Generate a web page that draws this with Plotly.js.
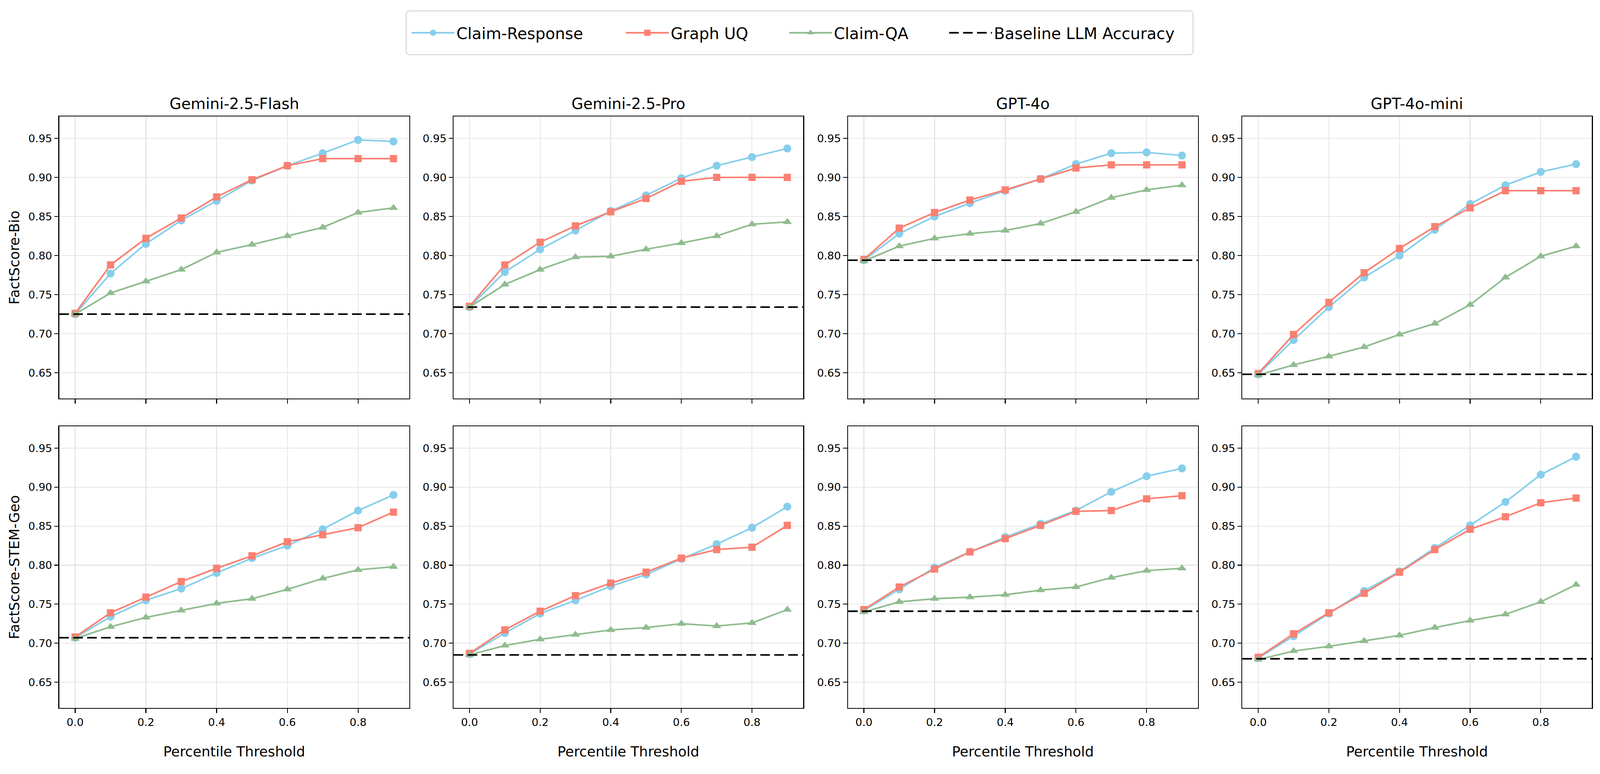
<!DOCTYPE html>
<html>
<head>
<meta charset="utf-8">
<script src="https://cdn.plot.ly/plotly-3.0.1.min.js"></script>
<style>html,body{margin:0;padding:0;background:#fff;overflow:hidden;}</style>
</head>
<body>
<div id="chart"></div>
<script>
// ---------------- data ----------------
const thresholds = [0.0, 0.1, 0.2, 0.3, 0.4, 0.5, 0.6, 0.7, 0.8, 0.9];
const models = ["Gemini-2.5-Flash", "Gemini-2.5-Pro", "GPT-4o", "GPT-4o-mini"];
const datasets = ["FactScore-Bio", "FactScore-STEM-Geo"];
const methodNames = ["Claim-Response", "Graph UQ", "Claim-QA"];
const baselineName = "Baseline LLM Accuracy";
const xTickVals = [0.0, 0.2, 0.4, 0.6, 0.8];
const yTickVals = [0.65, 0.70, 0.75, 0.80, 0.85, 0.90, 0.95];

// FactScore-Bio (one row per model)
const claimResponseBio = [
  [0.725, 0.777, 0.815, 0.845, 0.870, 0.896, 0.915, 0.931, 0.948, 0.946],
  [0.734, 0.779, 0.808, 0.832, 0.857, 0.877, 0.899, 0.915, 0.926, 0.937],
  [0.794, 0.828, 0.850, 0.867, 0.883, 0.898, 0.917, 0.931, 0.932, 0.928],
  [0.648, 0.692, 0.734, 0.772, 0.800, 0.833, 0.866, 0.890, 0.907, 0.917]
];
const graphUQBio = [
  [0.726, 0.788, 0.822, 0.848, 0.875, 0.897, 0.915, 0.924, 0.924, 0.924],
  [0.735, 0.788, 0.817, 0.838, 0.856, 0.873, 0.895, 0.900, 0.900, 0.900],
  [0.795, 0.835, 0.855, 0.871, 0.884, 0.898, 0.912, 0.916, 0.916, 0.916],
  [0.649, 0.699, 0.740, 0.778, 0.809, 0.837, 0.861, 0.883, 0.883, 0.883]
];
const claimQABio = [
  [0.725, 0.752, 0.767, 0.782, 0.804, 0.814, 0.825, 0.836, 0.855, 0.861],
  [0.734, 0.763, 0.782, 0.798, 0.799, 0.808, 0.816, 0.825, 0.840, 0.843],
  [0.793, 0.812, 0.822, 0.828, 0.832, 0.841, 0.856, 0.874, 0.884, 0.890],
  [0.647, 0.660, 0.671, 0.683, 0.699, 0.713, 0.737, 0.772, 0.799, 0.812]
];
const baselineBio = [0.725, 0.734, 0.794, 0.648];

// FactScore-STEM-Geo (one row per model)
const claimResponseGeo = [
  [0.707, 0.734, 0.755, 0.770, 0.790, 0.809, 0.825, 0.846, 0.870, 0.890],
  [0.686, 0.713, 0.738, 0.755, 0.773, 0.788, 0.808, 0.827, 0.848, 0.875],
  [0.742, 0.769, 0.797, 0.817, 0.836, 0.853, 0.870, 0.894, 0.914, 0.924],
  [0.681, 0.709, 0.738, 0.767, 0.792, 0.822, 0.851, 0.881, 0.916, 0.939]
];
const graphUQGeo = [
  [0.708, 0.739, 0.759, 0.779, 0.796, 0.812, 0.830, 0.839, 0.848, 0.868],
  [0.687, 0.717, 0.741, 0.761, 0.777, 0.791, 0.809, 0.820, 0.823, 0.851],
  [0.743, 0.772, 0.795, 0.817, 0.834, 0.851, 0.869, 0.870, 0.885, 0.889],
  [0.682, 0.712, 0.739, 0.764, 0.791, 0.820, 0.846, 0.862, 0.880, 0.886]
];
const claimQAGeo = [
  [0.706, 0.721, 0.733, 0.742, 0.751, 0.757, 0.769, 0.783, 0.794, 0.798],
  [0.685, 0.697, 0.705, 0.711, 0.717, 0.720, 0.725, 0.722, 0.726, 0.743],
  [0.740, 0.753, 0.757, 0.759, 0.762, 0.768, 0.772, 0.784, 0.793, 0.796],
  [0.679, 0.690, 0.696, 0.703, 0.710, 0.720, 0.729, 0.737, 0.753, 0.775]
];
const baselineGeo = [0.707, 0.685, 0.741, 0.680];

// ---------------- styling ----------------
const colors = ["#87CEEB", "#FA8072", "#8FBC8F"];
const symbols = ["circle", "square", "triangle-up"];
const markerSizes = [30, 27, 30];
const FONT = "DejaVu Sans, Verdana, sans-serif";
const W = 5968, H = 1981;                       // reference pixel frame
const vw = window.innerWidth || W, vh = window.innerHeight || H;
const kx = vw / W, ky = vh / H;                 // css px per reference px
const k = Math.min(kx, ky);
const P = v => v * k;
const xRange = [-0.045, 0.945];
const yRange = [0.617, 0.978];

// plot-area boxes in reference pixels
const colPx = [[221, 1527], [1692, 2996], [3163, 4468], [4634, 5938]];
const rowPx = [[298, 1020], [1091, 1812]];
// legend entries: left edge of each symbol (reference px), frame box
const legendStarts = [1528, 2327, 2936, 3533];
const legendFrame = {x0: 1515, x1: 4450, y0: 28, y1: 140};

const rows = [
  {series: [claimResponseBio, graphUQBio, claimQABio], base: baselineBio},
  {series: [claimResponseGeo, graphUQGeo, claimQAGeo], base: baselineGeo}
];

const traces = [];
const shapes = [];
const annotations = [];
const layout = {
  width: vw, height: vh,
  margin: {l: 0, r: 0, t: 0, b: 0, pad: 0},
  paper_bgcolor: "#ffffff",
  plot_bgcolor: "#ffffff",
  font: {family: FONT, color: "#000000", size: P(40)},
  showlegend: true,
  shapes: shapes,
  annotations: annotations
};

const legendKeys = ["legend", "legend2", "legend3", "legend4"];
legendKeys.forEach((key, i) => {
  layout[key] = {
    orientation: "h",
    x: legendStarts[i] / W, xanchor: "left",
    y: 1 - ((legendFrame.y0 + legendFrame.y1) / 2) / H, yanchor: "middle",
    font: {family: FONT, size: P(59), color: "#000000"},
    borderwidth: 0, bgcolor: "rgba(0,0,0,0)",
    itemwidth: Math.max(30, P(160)),
    itemsizing: "trace"
  };
});

// legend frame (rounded rectangle, paper coords)
(function () {
  const rx = 12 / W, ry = 12 / H;
  const x0 = legendFrame.x0 / W, x1 = legendFrame.x1 / W;
  const yt = 1 - legendFrame.y0 / H, yb = 1 - legendFrame.y1 / H;
  const path = `M ${x0 + rx},${yt} L ${x1 - rx},${yt} Q ${x1},${yt} ${x1},${yt - ry} ` +
    `L ${x1},${yb + ry} Q ${x1},${yb} ${x1 - rx},${yb} L ${x0 + rx},${yb} ` +
    `Q ${x0},${yb} ${x0},${yb + ry} L ${x0},${yt - ry} Q ${x0},${yt} ${x0 + rx},${yt} Z`;
  shapes.push({type: "path", xref: "paper", yref: "paper", path: path,
    line: {color: "#d6d6d6", width: P(3.5)}, fillcolor: "rgba(255,255,255,0.8)", layer: "below"});
})();

for (let r = 0; r < 2; r++) {
  for (let c = 0; c < 4; c++) {
    const idx = r * 4 + c + 1;
    const xa = "x" + (idx === 1 ? "" : idx);
    const ya = "y" + (idx === 1 ? "" : idx);
    const xKey = "xaxis" + (idx === 1 ? "" : idx);
    const yKey = "yaxis" + (idx === 1 ? "" : idx);
    const xd = [colPx[c][0] / W, colPx[c][1] / W];
    const yd = [1 - rowPx[r][1] / H, 1 - rowPx[r][0] / H];

    const common = {
      ticks: "outside", ticklen: P(15), tickwidth: P(3.2), tickcolor: "#000",
      showline: true, linecolor: "#000", linewidth: P(3.4), mirror: true,
      showgrid: true, gridcolor: "#e6e6e6", gridwidth: P(3.2),
      zeroline: false,
      tickfont: {family: FONT, size: P(40), color: "#000"},
      fixedrange: true
    };
    layout[xKey] = Object.assign({
      domain: xd, anchor: ya, range: xRange,
      tickmode: "array", tickvals: xTickVals,
      ticktext: xTickVals.map(v => v.toFixed(1)),
      showticklabels: r === 1,
      ticklabelstandoff: P(6)
    }, common);
    layout[yKey] = Object.assign({
      domain: yd, anchor: xa, range: yRange,
      tickmode: "array", tickvals: yTickVals,
      ticktext: yTickVals.map(v => v.toFixed(2)),
      ticklabelstandoff: P(8)
    }, common);

    for (let m = 0; m < 3; m++) {
      traces.push({
        type: "scatter", mode: "lines+markers",
        x: thresholds, y: rows[r].series[m][c],
        xaxis: xa, yaxis: ya,
        name: methodNames[m], legendgroup: methodNames[m],
        legend: legendKeys[m],
        showlegend: idx === 1,
        line: {color: colors[m], width: P(6)},
        marker: {color: colors[m], symbol: symbols[m], size: P(markerSizes[m]), line: {width: 0}}
      });
    }

    shapes.push({
      type: "line", xref: xa + " domain", yref: ya,
      x0: 0, x1: 1, y0: rows[r].base[c], y1: rows[r].base[c],
      line: {color: "#000000", width: P(6), dash: `${P(36)}px,${P(16)}px`},
      layer: "above",
      name: baselineName, legendgroup: "baseline", legend: "legend4",
      showlegend: idx === 1
    });

    if (r === 0) {
      annotations.push({
        text: models[c], xref: "paper", yref: "paper",
        x: (xd[0] + xd[1]) / 2, y: yd[1], xanchor: "center", yanchor: "bottom",
        yshift: P(12), showarrow: false,
        font: {family: FONT, size: P(57), color: "#000"}
      });
    } else {
      annotations.push({
        text: "Percentile Threshold", xref: "paper", yref: "paper",
        x: (xd[0] + xd[1]) / 2, y: 1 - 1923 / H, xanchor: "center", yanchor: "middle",
        showarrow: false,
        font: {family: FONT, size: P(52), color: "#000"}
      });
    }
    if (c === 0) {
      annotations.push({
        text: datasets[r], xref: "paper", yref: "paper",
        x: 53 / W, y: (yd[0] + yd[1]) / 2, xanchor: "center", yanchor: "middle",
        textangle: -90, showarrow: false,
        font: {family: FONT, size: P(52), color: "#000"}
      });
    }
  }
}

Plotly.newPlot("chart", traces, layout, {displayModeBar: false, responsive: false, staticPlot: true});
</script>
</body>
</html>
